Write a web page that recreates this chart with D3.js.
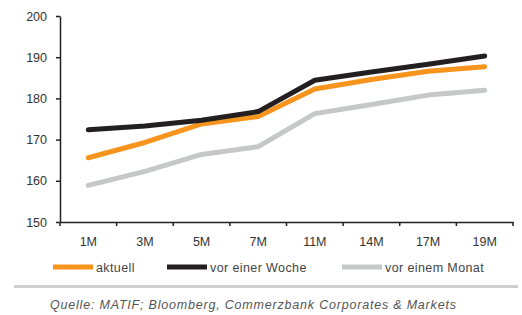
<!DOCTYPE html>
<html><head><meta charset="utf-8">
<script src="https://cdn.jsdelivr.net/npm/d3@7/dist/d3.min.js"></script>
<style>body{margin:0;background:#fff;} svg{display:block;font-family:"Liberation Sans",Arial,sans-serif;}</style>
</head><body>
<svg id="c" width="522" height="315"></svg>
<script>
const categories = ["1M","3M","5M","7M","11M","14M","17M","19M"];
const aktuell = [165.6, 169.3, 173.8, 175.6, 182.3, 184.6, 186.6, 187.7];
const vorEinerWoche = [172.4, 173.3, 174.7, 176.8, 184.4, 186.4, 188.3, 190.3];
const vorEinemMonat = [158.9, 162.3, 166.4, 168.3, 176.3, 178.5, 180.8, 182.0];
const yTicks = [150,160,170,180,190,200];
const seriesNames = ["aktuell","vor einer Woche","vor einem Monat"];
const colors = ["#f7941d","#231f20","#c6c7c9"];
const series = [aktuell, vorEinerWoche, vorEinemMonat];

const svg = d3.select("#c");
const x = d3.scaleBand().domain(categories).range([60,513]);
const y = d3.scaleLinear().domain([150,200]).range([222,16]);

// y axis
const ya = svg.append("g").attr("transform","translate(60,0)")
  .call(d3.axisLeft(y).tickValues(yTicks).tickSize(4).tickPadding(9).tickSizeOuter(0));
ya.select(".domain").attr("stroke","#231f20").attr("stroke-width",1.5);
ya.selectAll(".tick line").attr("stroke","#231f20").attr("stroke-width",1.5);
ya.selectAll("text").attr("font-size",12.5).attr("fill","#333").attr("font-family","Liberation Sans, Arial, sans-serif");

// x axis
const xa = svg.append("g").attr("transform","translate(0,222)")
  .call(d3.axisBottom(x).tickSize(0).tickPadding(15));
xa.select(".domain").attr("stroke","#231f20").attr("stroke-width",1.5);
xa.selectAll("text").attr("font-size",12.5).attr("fill","#333").attr("font-family","Liberation Sans, Arial, sans-serif");
// tick marks at band boundaries
const bounds = categories.map(c=>x(c)).concat([x.range()[1]]);
svg.append("g").selectAll("line").data(bounds).join("line")
  .attr("x1",d=>d).attr("x2",d=>d).attr("y1",222).attr("y2",226)
  .attr("stroke","#231f20").attr("stroke-width",1.5);

const line = d3.line().x((d,i)=>x(categories[i])+x.bandwidth()/2).y(d=>y(d));
[2,0,1].forEach(k=>{
  svg.append("path").datum(series[k]).attr("d",line)
    .attr("fill","none").attr("stroke",colors[k]).attr("stroke-width",5)
    .attr("stroke-linejoin","round").attr("stroke-linecap","round");
});

// legend
const legX = [53,167,342];
const lg = svg.append("g");
seriesNames.forEach((n,i)=>{
  lg.append("line").attr("x1",legX[i]).attr("x2",legX[i]+40).attr("y1",267).attr("y2",267)
    .attr("stroke",colors[i]).attr("stroke-width",5);
  lg.append("text").attr("x",legX[i]+43).attr("y",271.5).text(n)
    .attr("font-size",12.5).attr("letter-spacing",0.4).attr("fill","#444");
});

// separator
svg.append("line").attr("x1",14).attr("x2",518).attr("y1",286.5).attr("y2",286.5)
  .attr("stroke","#cfd0d2").attr("stroke-width",3);

svg.append("text").attr("x",50).attr("y",309).attr("font-size",12.5).attr("font-style","italic")
  .attr("letter-spacing",0.8)
  .attr("fill","#555").text("Quelle: MATIF; Bloomberg, Commerzbank Corporates & Markets");
</script>
</body></html>
